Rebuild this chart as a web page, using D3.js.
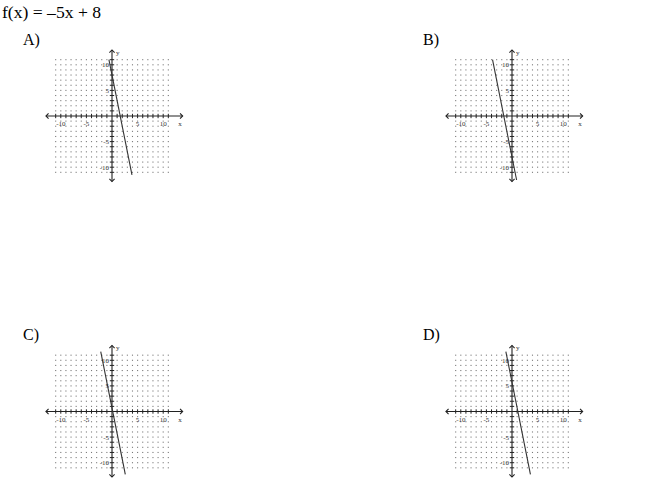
<!DOCTYPE html>
<html>
<head>
<meta charset="utf-8">
<script src="https://cdn.jsdelivr.net/npm/d3@7"></script>
<style>
  html, body { margin: 0; padding: 0; background: #fff; }
  svg { display: block; }
</style>
</head>
<body>
<svg id="chart" width="650" height="482"></svg>
<script>
// ---- data ----
const title = "f(x) = \u20135x + 8";
const panelLabels = ["A)", "B)", "C)", "D)"];
// line segment endpoints (data units) for each choice
const startX = [-0.6, -3.8, -2.2, -1.2];
const startY = [11.0, 11.0, 11.7, 11.7];
const endX   = [3.9, 0.9, 2.6, 3.6];
const endY   = [-11.5, -12.5, -12.3, -12.3];
// tick labels
const xTickValues = [-10, -5, 5, 10];
const yTickValues = [10, 5, -5, -10];
const gridMin = -11, gridMax = 11;

// ---- layout ----
const svg = d3.select("#chart");
const origins = [[112, 116], [512, 116], [112, 411.5], [512, 411.5]];
const labelPos = [[23, 45], [423, 45], [23, 340], [423, 340]];
const unit = 5.12;
const serif = "Liberation Serif, serif";

svg.append("text")
  .attr("x", 2).attr("y", 18)
  .attr("font-family", serif)
  .attr("font-size", 16)
  .attr("fill", "#000")
  .attr("textLength", 99).attr("lengthAdjust", "spacingAndGlyphs")
  .text(title);

panelLabels.forEach((lab, i) => {
  svg.append("text")
    .attr("x", labelPos[i][0]).attr("y", labelPos[i][1])
    .attr("font-family", serif)
    .attr("font-size", 16)
    .attr("fill", "#000")
    .text(lab);

  const [ox, oy] = origins[i];
  const x = d3.scaleLinear().domain([gridMin, gridMax]).range([ox + gridMin * unit, ox + gridMax * unit]);
  const y = d3.scaleLinear().domain([gridMin, gridMax]).range([oy - gridMin * unit, oy - gridMax * unit]);
  const g = svg.append("g");

  // grid dots
  const ints = d3.range(gridMin, gridMax + 1);
  const pts = [];
  ints.forEach(a => ints.forEach(b => { if (a !== 0 && b !== 0) pts.push([a, b]); }));
  g.selectAll("rect.dot").data(pts).join("rect")
    .attr("class", "dot")
    .attr("x", d => x(d[0]) - 0.55).attr("y", d => y(d[1]) - 0.55)
    .attr("width", 1.1).attr("height", 1.1)
    .attr("fill", "#7a7a7a");

  // axes
  const axisColor = "#222";
  g.append("line").attr("x1", x(-12.9)).attr("x2", x(13.8)).attr("y1", y(0)).attr("y2", y(0))
    .attr("stroke", axisColor).attr("stroke-width", 1.1);
  g.append("line").attr("x1", x(0)).attr("x2", x(0)).attr("y1", y(12.9)).attr("y2", y(-12.8))
    .attr("stroke", axisColor).attr("stroke-width", 1.1);
  // arrowheads
  const ah = 2.6;
  const arrows = [
    [[x(-12.9) + ah, y(0) - ah], [x(-12.9), y(0)], [x(-12.9) + ah, y(0) + ah]],
    [[x(13.8) - ah, y(0) - ah], [x(13.8), y(0)], [x(13.8) - ah, y(0) + ah]],
    [[x(0) - ah, y(12.9) + ah], [x(0), y(12.9)], [x(0) + ah, y(12.9) + ah]],
    [[x(0) - ah, y(-12.8) - ah], [x(0), y(-12.8)], [x(0) + ah, y(-12.8) - ah]]
  ];
  arrows.forEach(a => g.append("path").attr("d", d3.line()(a))
    .attr("fill", "none").attr("stroke", axisColor).attr("stroke-width", 1.1));

  // tick marks
  const tk = ints.filter(v => v !== 0);
  g.selectAll("line.xt").data(tk).join("line").attr("class", "xt")
    .attr("x1", d => x(d)).attr("x2", d => x(d)).attr("y1", y(0) - 2.2).attr("y2", y(0) + 2.2)
    .attr("stroke", axisColor).attr("stroke-width", 1);
  g.selectAll("line.yt").data(tk).join("line").attr("class", "yt")
    .attr("y1", d => y(d)).attr("y2", d => y(d)).attr("x1", x(0) - 2.2).attr("x2", x(0) + 2.2)
    .attr("stroke", axisColor).attr("stroke-width", 1);

  // tick labels
  g.selectAll("text.xl").data(xTickValues).join("text").attr("class", "xl")
    .attr("x", d => x(d)).attr("y", y(0) + 10)
    .attr("text-anchor", "middle")
    .attr("font-family", serif).attr("font-size", 7).attr("fill", "#333")
    .text(d => String(d));
  g.selectAll("text.yl").data(yTickValues).join("text").attr("class", "yl")
    .attr("x", x(0) - 3).attr("y", d => y(d) + 2.4)
    .attr("text-anchor", "end")
    .attr("font-family", serif).attr("font-size", 7).attr("fill", "#333")
    .text(d => String(d));
  // axis names
  g.append("text").attr("x", x(13.3)).attr("y", y(0) + 10).attr("text-anchor", "middle")
    .attr("font-family", serif).attr("font-size", 7).attr("fill", "#333").text("x");
  g.append("text").attr("x", x(0) + 4).attr("y", y(12)).attr("text-anchor", "start")
    .attr("font-family", serif).attr("font-size", 7).attr("fill", "#333").text("y");

  // the graphed line
  g.append("line")
    .attr("x1", x(startX[i])).attr("y1", y(startY[i]))
    .attr("x2", x(endX[i])).attr("y2", y(endY[i]))
    .attr("stroke", "#333").attr("stroke-width", 1.1);
});
</script>
</body>
</html>
